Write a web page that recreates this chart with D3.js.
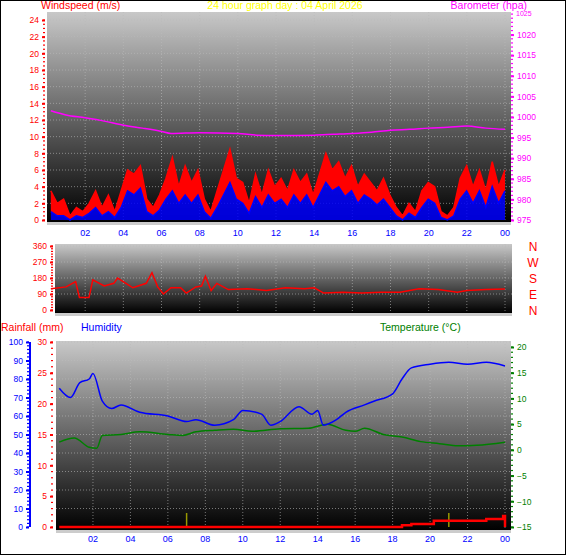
<!DOCTYPE html>
<html><head><meta charset="utf-8">
<script src="https://cdn.jsdelivr.net/npm/d3@7"></script>
<style>body{margin:0;background:#fff}svg{display:block;font-family:"Liberation Sans",Arial,sans-serif}</style>
</head><body><div id="chart"></div>
<script>
// values
const hourTicks = ["02","04","06","08","10","12","14","16","18","20","22","00"];
const windGust = [3.5,2,2.5, 0.5,1.5,1, 2,3.5,1.5, 3,1,3.5, 6,5.5,6.5, 2.5,1.5,3, 5,7.5,4, 6.5,4.5,6,
  2.5,1,3.5, 6,8.5,5, 4.5,2,5.5, 3,6,4, 5,3.5,6, 4.5,5.5,3, 5.5,8,6, 7,5,6.5,
  4,5.5,4.5, 3.5,5,3, 1.5,0.5,2, 1,3.5,4.5, 4,1,0.5, 1.5,5,6.5, 4,6,3.5, 7,4,6];
const windAvg = [1,0.5,0.5, 0,0.5,0.3, 0.8,1.5,0.5, 1,0.3,1.5, 3.5,3,3.8, 1,0.5,1.2, 2.5,3.5,2, 3,2,3,
  1,0.2,1.5, 3,4.5,2.5, 2,0.8,2.8, 1.5,3,2, 2.5,1.5,3, 2,3,1.5, 3,4.5,3.5, 4,2.8,3.5,
  2,3,2.5, 1.8,2.5,1.5, 0.5,0,0.8, 0.3,1.5,2.5, 2,0.3,0, 0.5,2.5,3.5, 2,3.5,1.5, 4,2,3.5];
const baroHours = [0.2,1,2,3,4,5,6,6.5,8,10,11,12,14,15,16,17,18,19,20,21,22,23,24];
const baroValues = [1001.5,1000.5,999.8,999,998,997.3,996.5,996,996.2,996,995.6,995.5,995.6,995.8,996,996.3,996.8,997,997.3,997.5,997.8,997.3,997];
const dirHours = [0.2,1,1.5,1.7,2.2,2.4,3,3.5,3.7,4.5,5.2,5.5,5.8,6.1,6.5,7,7.3,7.8,8.1,8.3,8.6,8.9,9.5,10.5,11.5,12.5,13.5,14,14.5,15.5,16.5,17.5,18.5,19.5,20.5,21.5,22,23,24];
const dirValues = [120,130,160,70,70,170,135,150,180,125,150,210,130,90,125,125,95,130,135,190,110,150,115,120,110,125,120,125,95,100,95,100,100,120,115,100,110,115,118];
const humHours = [0.2,0.8,1.3,1.8,2,2.5,3,3.5,4.5,6,7,7.5,8.5,9.5,10,11,11.5,12,13,13.7,14,14.3,15,15.5,16.5,17,18,18.5,19,20,21,22,23,24];
const humValues = [75,70,78,80,83,68,64,66,62,60,57,58,55,58,63,61,55,57,65,61,63,55,58,62,66,68,72,80,86,88,89,88,89,87];
const tempHours = [0.2,1,1.8,2.2,2.5,3.5,4.5,6,6.8,7.5,8.5,9.5,10.5,12,13.5,14.5,15.5,16,16.5,17.5,18.5,19.5,20.5,21.5,22.5,24];
const tempValues = [1.5,2.3,0.5,0.3,2.8,3,3.5,3,2.8,3.5,3.8,4,3.6,4.1,4.2,5,3.8,3.6,4.2,3,2.5,1.6,1.2,0.8,0.9,1.5];
const rainHours = [0.2,18.5,19,20.2,23,23.9,24];
const rainValues = [0,0.3,0.5,1,1.3,1.8,0];
const rainMarks = [7,21];

const W = 566, H = 555;
const svg = d3.select("#chart").append("svg").attr("width", W).attr("height", H);
svg.append("rect").attr("x",0.5).attr("y",0.5).attr("width",W-1).attr("height",H-1).attr("fill","#fff").attr("stroke","#000");

const defs = svg.append("defs");
const grad = defs.append("linearGradient").attr("id","bg").attr("x1",0).attr("y1",0).attr("x2",0).attr("y2",1);
grad.append("stop").attr("offset","0%").attr("stop-color","#c8c8c8");
grad.append("stop").attr("offset","100%").attr("stop-color","#000");

const windTimes = windGust.map((d, i) => 0.2 + i * (23.8 / (windGust.length - 1)));

function panel(x0, x1, y0, y1, xTicks, xLabelY) {
  const g = svg.append("g");
  g.append("rect").attr("x",x0).attr("y",y0).attr("width",x1-x0).attr("height",y1-y0).attr("fill","url(#bg)");
  g.append("rect").attr("x",x0).attr("y",y1).attr("width",x1-x0).attr("height",3).attr("fill","#ccc");
  const x = d3.scaleLinear().domain([0,24]).range(xTicks);
  d3.range(2,25,2).forEach(h => g.append("line").attr("x1",x(h)).attr("x2",x(h)).attr("y1",y0).attr("y2",y1)
    .attr("stroke","#bbb").attr("stroke-dasharray","1,2").attr("stroke-opacity",0.6));
  if (xLabelY) {
    g.selectAll("text.xl").data(hourTicks).join("text").attr("x",(d,i)=>x((i+1)*2)).attr("y",xLabelY)
      .attr("text-anchor","middle").attr("font-size",9).attr("fill","#0000ff").text(d=>d);
  }
  return x;
}

function hGrid(values, scale, x0, x1) {
  svg.append("g").selectAll("line").data(values).join("line").attr("x1",x0).attr("x2",x1)
    .attr("y1",d=>scale(d)).attr("y2",d=>scale(d)).attr("stroke","#bbb").attr("stroke-dasharray","1,2").attr("stroke-opacity",0.6);
}

function yAxis(scale, ticks, xPos, side, color, minorStep) {
  const ax = (side === "left" ? d3.axisLeft(scale) : d3.axisRight(scale)).tickValues(ticks)
    .tickFormat(d3.format("d")).tickSize(3).tickPadding(3);
  const g = svg.append("g").attr("transform",`translate(${xPos},0)`).call(ax);
  g.select(".domain").remove();
  g.selectAll("line").attr("stroke",color).attr("stroke-width",2);
  g.selectAll("text").attr("fill",color).attr("font-size",8.5);
  const [a,b] = scale.domain();
  const minor = d3.range(Math.min(a,b), Math.max(a,b) + 1e-9, minorStep);
  svg.append("g").selectAll("rect").data(minor).join("rect")
    .attr("x", side === "left" ? xPos - 2 : xPos).attr("y", d => scale(d) - 0.5)
    .attr("width",2).attr("height",1.2).attr("fill",color);
  return g;
}

// ---------- top panel: wind + barometer ----------
const xTop = panel(47, 511, 12, 222, [47,505], 236);
const yWind = d3.scaleLinear().domain([0,24]).range([220,20]);
const yBaro = d3.scaleLinear().domain([975,1025]).range([220,14]);
hGrid(d3.range(2,25,2), yWind, 47, 511);
yAxis(yWind, d3.range(0,25,2), 45, "left", "#ff0000", 0.5);
yAxis(yBaro, d3.range(975,1021,5), 511, "right", "#ff00ff", 1);

svg.append("path").datum(windGust.map((d,i)=>[windTimes[i], d, windAvg[i]]))
  .attr("d", d3.area().x(d=>xTop(d[0])).y0(d=>yWind(d[2])).y1(d=>yWind(d[1])))
  .attr("fill","#ff0000");
svg.append("path").datum(windGust.map((d,i)=>[windTimes[i], d]))
  .attr("d", d3.line().x(d=>xTop(d[0])).y(d=>yWind(d[1])))
  .attr("fill","none").attr("stroke","#ff0000").attr("stroke-width",1.5);
svg.append("path").datum(windAvg.map((d,i)=>[windTimes[i], d]))
  .attr("d", d3.area().x(d=>xTop(d[0])).y0(yWind(0)).y1(d=>yWind(d[1])))
  .attr("fill","#0000ff").attr("fill-opacity",0.85);
svg.append("path").datum(windAvg.map((d,i)=>[windTimes[i], d]))
  .attr("d", d3.line().x(d=>xTop(d[0])).y(d=>yWind(d[1])))
  .attr("fill","none").attr("stroke","#0000ff").attr("stroke-width",1.5);
svg.append("path").datum(baroValues.map((d,i)=>[baroHours[i], d]))
  .attr("d", d3.line().curve(d3.curveMonotoneX).x(d=>xTop(d[0])).y(d=>yBaro(d[1])))
  .attr("fill","none").attr("stroke","#ff00ff").attr("stroke-width",1.5);

svg.append("text").attr("x",41).attr("y",9).attr("font-size",10.5).attr("fill","#ff0000").text("Windspeed (m/s)");
svg.append("text").attr("x",285).attr("y",9).attr("text-anchor","middle").attr("font-size",10.5).attr("fill","#ffff00").text("24 hour graph day : 04 April 2026");
svg.append("text").attr("x",527).attr("y",9).attr("text-anchor","end").attr("font-size",10.5).attr("fill","#ff00ff").text("Barometer (hpa)");
svg.append("text").attr("x",516).attr("y",16).attr("font-size",7).attr("fill","#ff00ff").text("1025");

// ---------- middle panel: wind direction ----------
const xMid = panel(55, 512, 244, 313, [47,505], null);
const yDir = d3.scaleLinear().domain([0,360]).range([310,246]);
hGrid([90,180,270,360], yDir, 55, 512);
yAxis(yDir, [0,90,180,270,360], 53, "left", "#ff0000", 15);
svg.append("path").datum(dirValues.map((d,i)=>[dirHours[i], d]))
  .attr("d", d3.line().x(d=>xMid(d[0])).y(d=>yDir(d[1])))
  .attr("fill","none").attr("stroke","#ff0000").attr("stroke-width",1.5);
["N","W","S","E","N"].forEach((c,i) => svg.append("text").attr("x",533).attr("y",yDir(360 - i*90)+5)
  .attr("text-anchor","middle").attr("font-size",12).attr("fill","#ff0000").text(c));

// ---------- bottom panel: rain, humidity, temperature ----------
const xBot = panel(56, 511, 341, 530, [55.5,505], 542);
const yHum = d3.scaleLinear().domain([0,100]).range([527,342]);
const yRain = d3.scaleLinear().domain([0,30]).range([527,342]);
const yTemp = d3.scaleLinear().domain([-15,20]).range([527,347]);
hGrid(d3.range(10,101,10), yHum, 56, 511);
svg.append("rect").attr("x",29).attr("y",342).attr("width",2).attr("height",185).attr("fill","#0000ff");
yAxis(yHum, d3.range(0,101,10), 29, "left", "#0000ff", 2);
yAxis(yRain, d3.range(0,31,5), 53, "left", "#ff0000", 1);
yAxis(yTemp, d3.range(-15,21,5), 511, "right", "#008000", 1);

rainMarks.forEach(h => svg.append("line").attr("x1",xBot(h)).attr("x2",xBot(h)).attr("y1",513).attr("y2",527)
  .attr("stroke","#999900").attr("stroke-width",1.5));
svg.append("path").datum(rainValues.map((d,i)=>[rainHours[i], d]))
  .attr("d", d3.line().curve(d3.curveStepAfter).x(d=>xBot(d[0])).y(d=>yRain(d[1])))
  .attr("fill","none").attr("stroke","#ff0000").attr("stroke-width",2.5);
svg.append("path").datum(tempValues.map((d,i)=>[tempHours[i], d]))
  .attr("d", d3.line().curve(d3.curveMonotoneX).x(d=>xBot(d[0])).y(d=>yTemp(d[1])))
  .attr("fill","none").attr("stroke","#008000").attr("stroke-width",1.5);
svg.append("path").datum(humValues.map((d,i)=>[humHours[i], d]))
  .attr("d", d3.line().curve(d3.curveMonotoneX).x(d=>xBot(d[0])).y(d=>yHum(d[1])))
  .attr("fill","none").attr("stroke","#0000ff").attr("stroke-width",1.5);

svg.append("text").attr("x",1).attr("y",331).attr("font-size",10.5).attr("fill","#ff0000").text("Rainfall (mm)");
svg.append("text").attr("x",81).attr("y",331).attr("font-size",10.5).attr("fill","#0000ff").text("Humidity");
svg.append("text").attr("x",380).attr("y",331).attr("font-size",10.5).attr("fill","#008000").text("Temperature (°C)");
</script></body></html>
